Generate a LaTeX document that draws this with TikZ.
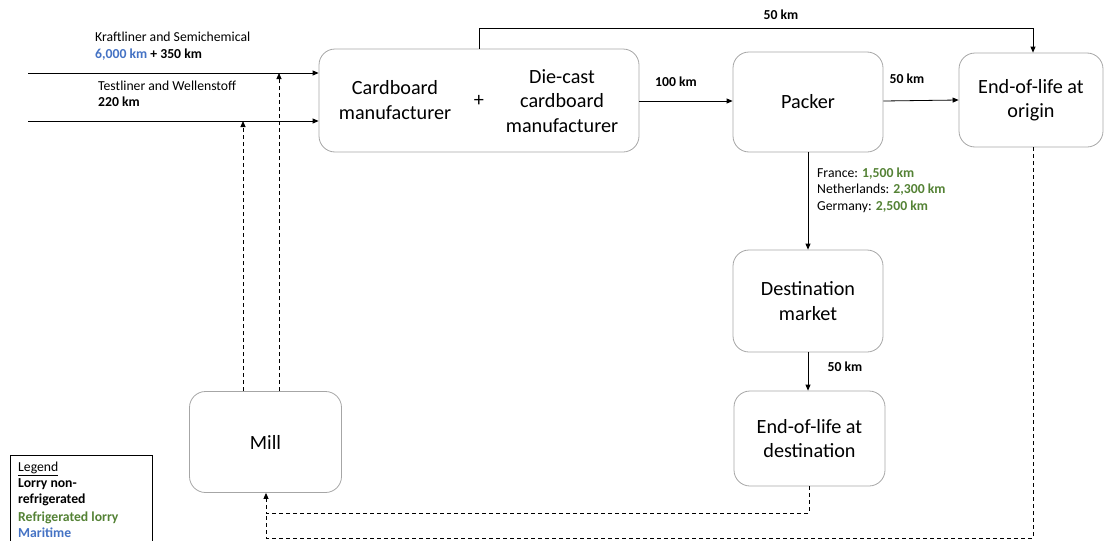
\documentclass[tikz,border=0pt]{standalone}
\usepackage{fontspec}
\setmainfont{Carlito}
\usetikzlibrary{arrows.meta}
\definecolor{seablue}{HTML}{4472C4}
\definecolor{lorrygreen}{HTML}{548235}
\definecolor{boxgray}{HTML}{A6A6A6}
\tikzset{
  stage/.style={draw=boxgray, line width=0.8pt, rounded corners=16pt, align=center,
    font=\fontsize{20.2}{24.5}\selectfont, inner sep=0pt},
  stagetext/.style={align=center, font=\fontsize{20.2}{24.5}\selectfont, inner sep=0pt},
  flow/.style={line width=0.8pt, -{Triangle[length=6pt,width=5pt]}},
  flowd/.style={flow, dash pattern=on 4pt off 3pt},
  tie/.style={line width=0.8pt, dash pattern=on 4pt off 3pt},
  km/.style={font=\fontsize{13.7}{16.5}\selectfont\bfseries, inner sep=0pt, align=left},
  note/.style={font=\fontsize{13.7}{16.5}\selectfont, inner sep=0pt, align=left},
}
\begin{document}
\begin{tikzpicture}[x=1pt,y=-1pt]
\useasboundingbox (0,0) rectangle (1104,541);

% process stages
\node[stage, minimum width=320pt, minimum height=103pt] (card) at (479,100.5) {};
\node[stagetext] (cardtxt) at (395,100) {Cardboard\\manufacturer};
\node[stagetext] (plus) at (479,101) {+};
\node[stagetext] (diecast) at (562,101) {Die-cast\\cardboard\\manufacturer};
\node[stage, minimum width=150pt, minimum height=100pt] (packer) at (808,102) {Packer};
\node[stage, minimum width=144pt, minimum height=94pt] (eolo) at (1031,100) {End-of-life at\\origin};
\node[stage, minimum width=150pt, minimum height=102pt] (dest) at (808,301) {Destination\\market};
\node[stage, minimum width=151pt, minimum height=95pt] (eold) at (809.5,438.5) {End-of-life at\\destination};
\node[stage, minimum width=152pt, minimum height=101pt] (mill) at (265.5,442) {Mill};

% incoming raw material flows
\coordinate (k0) at (28,73);
\coordinate (t0) at (28,121);
\draw[flow] (k0) -- (k0 -| card.west);
\draw[flow] (t0) -- (t0 -| card.west);
\node[note, anchor=base west] (kraft) at (95,41) {Kraftliner and Semichemical};
\node[km, anchor=base west] (kraftkm) at (95,58) {\textcolor{seablue}{6,000 km} + 350 km};
\node[note, anchor=base west] (test) at (98,90) {Testliner and Wellenstoff};
\node[km, anchor=base west] (testkm) at (98,106) {220 km};

% recycled fibre back from the mill
\coordinate (ma) at (243,121);
\coordinate (mb) at (279,73);
\draw[flowd] (ma |- mill.north) -- (ma);
\draw[flowd] (mb |- mill.north) -- (mb);

% manufacturer to packer and end of life
\coordinate (top) at (1033,28);
\draw[flow] (card.north) |- (top) -- (top |- eolo.north);
\node[km] (km50top) at (781,15) {50 km};
\draw[flow] (card.east |- 0,101) -- (packer.west |- 0,101);
\node[km] (km100) at (676,82) {100 km};
\draw[flow] (packer.east |- 0,101) -- (eolo.west |- 0,100);
\node[km] (km50o) at (907,79) {50 km};

% distribution to the destination market
\draw[flow] (packer.south) -- (dest.north);
\node[note, anchor=base west] (fr) at (817,177) {France: \textcolor{lorrygreen}{\bfseries 1,500 km}};
\node[note, anchor=base west] (nl) at (817,193.5) {Netherlands: \textcolor{lorrygreen}{\bfseries 2,300 km}};
\node[note, anchor=base west] (de) at (817,210) {Germany: \textcolor{lorrygreen}{\bfseries 2,500 km}};
\draw[flow] (dest.south) -- (dest.south |- eold.north);
\node[km] (km50d) at (845,367) {50 km};

% waste collection back to the mill
\coordinate (ret) at (266,513);
\coordinate (reo) at (266,538);
\draw[flowd] (eold.south) |- (ret) -- (ret |- mill.south);
\draw[tie] (top |- eolo.south) |- (reo) -- (ret);

% legend
\node[draw=black, line width=0.8pt, minimum width=142pt, minimum height=95pt, anchor=north west] (legend) at (10,455) {};
\node[note, anchor=base west] (lgt) at (18,471) {\underline{Legend}};
\node[km, anchor=base west] (lg1) at (18,487) {Lorry non-};
\node[km, anchor=base west] (lg2) at (18,503) {refrigerated};
\node[km, anchor=base west, text=lorrygreen] (lg3) at (18,521) {Refrigerated lorry};
\node[km, anchor=base west, text=seablue] (lg4) at (18,537) {Maritime};
\end{tikzpicture}
\end{document}
